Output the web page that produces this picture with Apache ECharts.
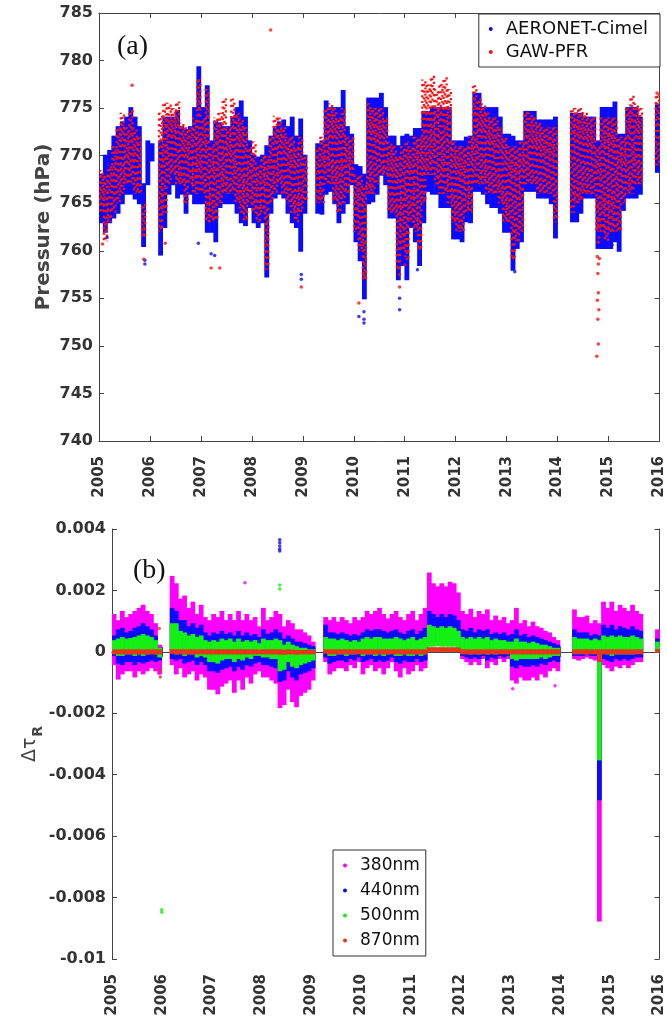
<!DOCTYPE html>
<html>
<head>
<meta charset="utf-8">
<title>Pressure and Rayleigh optical depth difference</title>
<script src="https://cdn.jsdelivr.net/npm/echarts@6/dist/echarts.min.js"></script>
<style>
html, body { margin: 0; padding: 0; background: #fff; }
#main { width: 667px; height: 1026px; }
</style>
</head>
<body>
<div id="main"></div>
<script>
// monthly ranges, Jan 2005 .. Dec 2015 (null = no data)
var yearTicks = [2005, 2006, 2007, 2008, 2009, 2010, 2011, 2012, 2013, 2014, 2015, 2016];

// (a) surface pressure, hPa
var cimelLow = [
    763, 762, 763, 763.5, 764, 765, 766, 766, 765.5, 765, 760.5, 767,
    769.5, null, 759.6, 762.5, 766, 767, 765.6, 766, 764, 766, 765, 765,
    765, 762, 762, 761, 764.6, 765, 765, 765, 764, 763, 762.7, 764.6,
    763, 762.5, 763, 757.3, 764, 765.6, 766, 765.6, 764, 763, 762.5, 760,
    764, null, null, 764, 763.9, 766, 766.3, 765, 763, 764, 765, 767,
    761, 759, 755, 765, 765.2, 766, 768, 767, 763.5, 763.5, 757, 758.5,
    757, 762.5, 761, 758.5, 763, 766.3, 766, 766, 764.6, 764.6, 764.6, 761.3,
    761.3, 761, 763.1, 763, 766.3, 766.3, 766, 765, 764.6, 764.6, 764, 762,
    762, 758, 760.3, 761, 766.3, 766.3, 766.3, 765.6, 765.6, 765.6, 765, 761.4,
    null, null, null, 763.1, 763.1, 764, 765.6, 765.6, 765.6, 760.3, 760.3, 760.3,
    760.3, 761, 760, 764.3, 765.6, 765.6, 765.6, 766, null, null, null, 768.3
];
var cimelHigh = [
    768, 770, 770.5, 772, 773, 773.5, 774, 775, 774, 773, 767, 771.5,
    771.2, null, 771.5, 774, 774, 774, 774.7, 773, 772.7, 773, 775, 779.3,
    775, 777.3, 771.5, 773.6, 773.4, 773, 773, 774, 775, 775.7, 774, 771.5,
    770, 769.8, 770, 771, 772, 773, 773.5, 773.7, 773, 774, 772, 773.8,
    770, null, null, 771.2, 771.5, 775.7, 775, 775, 775, 776.8, 773, 772.2,
    769, 768.8, 768, 776, 776, 776, 776.5, 775, 772, 772, 771, 772,
    772.2, 772, 772.8, 772.8, 774.6, 774.6, 775, 775, 775, 775, 775, 771.5,
    771.5, 771.5, 771.9, 772, 776.5, 776.5, 775, 775, 775, 775, 774, 772.2,
    772.2, 772, 771.5, 771.5, 774.6, 774.6, 774.6, 773.7, 773.7, 773.7, 773.7, 774,
    null, null, null, 774.4, 774.4, 774.4, 774, 774, 774, 771.5, 775, 775,
    775, 775.6, 772.2, 772.2, 775, 775, 775, 774, null, null, null, 775.3
];
var gawLow = [
    764, 761, 763, 764, 765, 766, 767, 767, 766, 766, 761.5, null,
    null, null, 762, 764, 767, 768, 767, 767, 765, 767, 766, 766,
    766, 763, 763, 763, 765, 766, 766, 766, 765, 764, 763, 765,
    764, 763, 764, 758, 765, 766, 767, 766, 765, 764, 763, 764,
    765, null, null, 765, 765, 767, 767, 765, 764, 765, 766, 767,
    762, 760, 757, 766, 766, 767, 768, 768, 764, 764, 758, 760,
    759, 763, 762, 760, 765, 768, 768, 767, 766, 766, 765, 763,
    762, 762, 764, 764, 767, 767, 767, 766, 766, 766, 765, 763,
    763, 759, 761, 762, 767, 767, 767, 766, 766, 766, 766, 763,
    null, null, null, 764, 765, 765, 766, 766, 766, 762, 762, 761,
    762, 762, 762, 765, 766, 766, 767, 767, null, null, null, 769
];
var gawHigh = [
    768.5, 768, 769, 771, 773, 774.5, 773, 774.8, 773, 772, 765, null,
    null, null, 774.5, 775.6, 775.5, 775, 775.7, 773.5, 773, 773, 774, 778,
    774, 777, 771, 774, 774.5, 776, 773, 776, 774.5, 774, 773, 771,
    771.5, 769, 770, 770, 772, 774.2, 774, 773, 772, 772, 771, 772,
    770, null, null, 771, 772, 775, 775.5, 775, 774, 775, 772, 772,
    768, 768, 767, 775.5, 775, 775, 775, 774, 771.5, 771, 770, 771,
    771.5, 771, 772, 772, 778, 777.5, 778.4, 777, 777.5, 778.3, 777, 771.5,
    771, 771, 771, 772, 777.4, 776, 775.5, 774.5, 774, 774, 773, 772,
    771, 771, 771, 771.5, 774.6, 774.5, 774, 773.5, 773, 773, 773, 773,
    null, null, null, 775, 775, 775, 774.5, 774, 774, 771, 774, 774,
    774, 774, 772, 772, 775, 776.3, 775.5, 775, null, null, null, 776.6
];
// isolated readings [year, hPa]
var cimelExtra = [[2005.16, 761.4], [2005.9, 759.0], [2005.9, 758.6], [2006.95, 760.8], [2007.2, 759.7],
    [2007.27, 759.5], [2008.97, 757.5], [2008.97, 757.0], [2010.1, 753.1], [2010.2, 753.6], [2010.2, 752.8],
    [2010.2, 752.4], [2010.9, 753.8], [2010.9, 755.0], [2011.25, 758.0], [2013.16, 757.8], [2015.07, 760.6]];
var gawExtra = [[2005.65, 777.4], [2005.07, 760.7], [2005.88, 759.1], [2006.3, 760.8], [2007.2, 758.2],
    [2007.37, 758.2], [2008.37, 783.2], [2008.97, 756.2], [2010.1, 754.5], [2010.2, 757.5], [2010.9, 757.5],
    [2010.9, 756.2], [2011.0, 758.5], [2014.78, 764.6], [2014.8, 763.2], [2014.79, 762.5], [2014.81, 761.4],
    [2014.8, 760.9], [2014.78, 759.4], [2014.82, 759.2], [2014.8, 758.6], [2014.79, 757.6], [2014.8, 755.6],
    [2014.78, 754.8], [2014.81, 753.8], [2014.79, 752.8], [2014.8, 750.2], [2014.77, 748.9], [2015.95, 776.6]];

// (b) delta tau Rayleigh, in units of 0.001
var t380Lo = [
    -0.4, -0.87, -0.7, -0.6, -0.6, -0.8, -0.6, -0.7, -0.6, -0.5, -0.6, -0.7,
    null, null, -0.4, -0.7, -0.5, -0.8, -0.7, -0.6, -0.9, -0.7, -0.8, -1.2,
    -1.2, -1.35, -1.1, -1.0, -0.9, -1.3, -0.9, -1.2, -0.8, -1.0, -0.7, -0.6,
    -0.8, -0.8, -0.9, -1.0, -1.8, -1.7, -1.2, -1.6, -1.77, -1.4, -1.3, -1.2,
    -0.9, null, null, -0.3, -0.7, -0.6, -0.5, -0.5, -0.6, -0.4, -0.5, -0.3,
    -0.7, -0.5, -0.4, -0.6, -0.5, -0.7, -0.5, -0.3, -0.6, -0.8, -0.5, -0.7,
    -0.6, -0.4, -0.6, -0.5, 0.5, 0.5, 0.55, 0.5, 0.5, 0.5, 0.5, 0.4,
    -0.2, -0.3, -0.4, -0.3, -0.4, -0.2, -0.5, -0.3, -0.4, -0.2, -0.3, -0.2,
    -0.9, -1.0, -0.8, -0.9, -0.9, -0.8, -0.9, -0.7, -0.8, -0.6, -0.5, -0.6,
    null, null, null, -0.2, -0.25, -0.2, -0.15, -0.2, -0.25, -8.75, -0.4, -0.5,
    -0.6, -0.45, -0.5, -0.4, -0.5, -0.4, -0.3, -0.3, null, null, null, 0.1
];
var t380Hi = [
    1.2, 1.0, 1.3, 1.1, 1.2, 1.3, 1.4, 1.5, 1.3, 1.2, 0.9, 0.2,
    null, null, 2.44, 2.2, 1.7, 1.8, 1.4, 1.6, 1.2, 1.5, 1.1, 1.0,
    1.2, 1.1, 1.3, 1.0, 1.2, 1.0, 1.3, 1.0, 1.2, 1.0, 1.1, 0.8,
    1.4, 1.0, 1.1, 1.3, 1.2, 0.8, 1.0, 0.9, 0.7, 0.7, 0.6, 0.5,
    0.3, null, null, 1.1, 1.0, 1.1, 0.95, 1.1, 1.0, 0.9, 1.1, 1.0,
    1.1, 1.3, 1.2, 1.3, 1.4, 1.2, 1.05, 1.2, 1.3, 1.1, 1.0, 1.2,
    1.3, 1.0, 1.2, 1.4, 2.55, 2.2, 2.1, 2.2, 2.1, 2.25, 2.2, 1.9,
    1.3, 1.2, 1.37, 1.1, 1.3, 1.2, 1.35, 1.0, 1.15, 1.0, 1.1, 0.9,
    1.0, 1.4, 0.9, 1.0, 0.8, 0.95, 0.8, 0.75, 0.65, 0.6, 0.45, 0.35,
    null, null, null, 1.35, 1.1, 1.1, 1.15, 0.9, 1.0, 0.9, 1.6, 1.4,
    1.6, 1.3, 1.5, 1.4, 1.3, 1.5, 1.3, 1.2, null, null, null, 0.7
];
var t440Lo = [
    -0.1, -0.35, -0.4, -0.3, -0.3, -0.4, -0.3, -0.35, -0.3, -0.25, -0.3, -0.25,
    null, null, -0.2, -0.25, -0.2, -0.35, -0.3, -0.25, -0.4, -0.3, -0.4, -0.6,
    -0.6, -0.65, -0.55, -0.5, -0.45, -0.6, -0.45, -0.55, -0.4, -0.45, -0.35, -0.3,
    -0.4, -0.4, -0.45, -0.5, -0.95, -0.9, -0.6, -0.8, -0.9, -0.7, -0.65, -0.6,
    -0.5, null, null, -0.15, -0.35, -0.3, -0.25, -0.25, -0.3, -0.2, -0.25, -0.15,
    -0.3, -0.25, -0.2, -0.3, -0.25, -0.3, -0.25, -0.15, -0.3, -0.35, -0.25, -0.3,
    -0.3, -0.2, -0.3, -0.25, 0.35, 0.35, 0.4, 0.35, 0.35, 0.35, 0.35, 0.3,
    -0.1, -0.15, -0.2, -0.15, -0.2, -0.1, -0.25, -0.15, -0.2, -0.1, -0.15, -0.1,
    -0.45, -0.5, -0.4, -0.45, -0.45, -0.4, -0.45, -0.35, -0.4, -0.3, -0.25, -0.3,
    null, null, null, -0.1, -0.1, -0.1, -0.05, -0.1, -0.1, -4.8, -0.2, -0.25,
    -0.3, -0.2, -0.25, -0.2, -0.25, -0.2, -0.15, -0.15, null, null, null, 0.2
];
var t440Hi = [
    0.5, 0.7, 0.75, 0.6, 0.65, 0.75, 0.8, 0.9, 0.8, 0.7, 0.5, 0.1,
    null, null, 1.4, 1.3, 1.0, 1.0, 0.8, 0.9, 0.75, 0.85, 0.6, 0.5,
    0.6, 0.55, 0.65, 0.55, 0.6, 0.5, 0.65, 0.5, 0.6, 0.5, 0.55, 0.45,
    0.7, 0.55, 0.6, 0.7, 0.6, 0.4, 0.5, 0.4, 0.3, 0.3, 0.25, 0.2,
    0.15, null, null, 0.85, 0.6, 0.6, 0.55, 0.6, 0.55, 0.5, 0.55, 0.5,
    0.6, 0.7, 0.65, 0.7, 0.7, 0.65, 0.6, 0.65, 0.7, 0.6, 0.55, 0.65,
    0.7, 0.55, 0.65, 0.75, 1.3, 1.2, 1.1, 1.2, 1.1, 1.2, 1.15, 1.0,
    0.7, 0.65, 0.75, 0.6, 0.7, 0.65, 0.7, 0.55, 0.6, 0.55, 0.6, 0.5,
    0.55, 0.7, 0.5, 0.55, 0.45, 0.5, 0.45, 0.4, 0.35, 0.3, 0.25, 0.2,
    null, null, null, 0.7, 0.6, 0.6, 0.6, 0.5, 0.55, 0.5, 0.85, 0.75,
    0.85, 0.7, 0.8, 0.75, 0.7, 0.8, 0.7, 0.65, null, null, null, 0.4
];
var t500Lo = [
    0, -0.1, -0.1, -0.05, -0.05, -0.1, -0.05, -0.1, -0.05, 0, -0.05, -0.15,
    null, null, 0, -0.05, 0, -0.1, -0.05, -0.05, -0.15, -0.1, -0.15, -0.3,
    -0.3, -0.35, -0.25, -0.2, -0.2, -0.3, -0.2, -0.25, -0.15, -0.2, -0.1, -0.1,
    -0.15, -0.15, -0.2, -0.2, -0.6, -0.55, -0.3, -0.45, -0.5, -0.4, -0.35, -0.3,
    -0.25, null, null, 0.05, -0.1, -0.1, -0.05, -0.05, -0.1, -0.05, -0.05, 0,
    -0.1, -0.05, -0.05, -0.1, -0.05, -0.1, -0.05, 0, -0.1, -0.1, -0.05, -0.1,
    -0.1, -0.05, -0.1, -0.05, 0.2, 0.2, 0.22, 0.2, 0.2, 0.2, 0.2, 0.15,
    0, 0, -0.05, 0, -0.05, 0, -0.05, 0, -0.05, 0, 0, 0,
    -0.2, -0.25, -0.2, -0.2, -0.2, -0.2, -0.2, -0.15, -0.2, -0.15, -0.1, -0.1,
    null, null, null, 0, 0, 0, 0, 0, 0, -3.5, 0, -0.05,
    -0.1, -0.05, -0.05, -0.05, -0.05, -0.05, 0, 0, null, null, null, 0.1
];
var t500Hi = [
    0.35, 0.4, 0.45, 0.4, 0.42, 0.45, 0.5, 0.55, 0.5, 0.45, 0.35, 0.1,
    null, null, 0.9, 0.9, 0.65, 0.6, 0.5, 0.55, 0.45, 0.5, 0.35, 0.3,
    0.35, 0.3, 0.4, 0.35, 0.4, 0.3, 0.4, 0.3, 0.35, 0.3, 0.35, 0.25,
    0.4, 0.35, 0.35, 0.4, 0.35, 0.2, 0.3, 0.2, 0.15, 0.1, 0.1, 0.05,
    0.05, null, null, 0.45, 0.4, 0.4, 0.35, 0.4, 0.35, 0.3, 0.35, 0.3,
    0.4, 0.45, 0.4, 0.45, 0.45, 0.4, 0.4, 0.4, 0.45, 0.4, 0.35, 0.4,
    0.45, 0.35, 0.4, 0.45, 0.85, 0.8, 0.75, 0.8, 0.75, 0.8, 0.75, 0.65,
    0.45, 0.4, 0.45, 0.4, 0.45, 0.4, 0.45, 0.35, 0.4, 0.35, 0.35, 0.3,
    0.3, 0.4, 0.3, 0.3, 0.25, 0.3, 0.25, 0.2, 0.2, 0.15, 0.1, 0.1,
    null, null, null, 0.45, 0.4, 0.4, 0.4, 0.35, 0.4, 0.35, 0.5, 0.45,
    0.5, 0.45, 0.5, 0.45, 0.45, 0.5, 0.45, 0.4, null, null, null, 0.3
];
var t870Lo = [
    -0.05, -0.05, -0.05, -0.05, -0.05, -0.05, -0.05, -0.05, -0.05, -0.05, -0.05, -0.05,
    null, null, -0.03, -0.05, -0.05, -0.05, -0.05, -0.05, -0.05, -0.05, -0.05, -0.05,
    -0.05, -0.05, -0.05, -0.05, -0.05, -0.05, -0.05, -0.05, -0.05, -0.05, -0.05, -0.05,
    -0.05, -0.05, -0.05, -0.05, -0.06, -0.06, -0.05, -0.05, -0.06, -0.05, -0.05, -0.05,
    -0.05, null, null, -0.03, -0.05, -0.05, -0.05, -0.05, -0.05, -0.05, -0.05, -0.05,
    -0.05, -0.05, -0.05, -0.05, -0.05, -0.05, -0.05, -0.05, -0.05, -0.05, -0.05, -0.05,
    -0.05, -0.05, -0.05, -0.05, 0.03, 0.03, 0.03, 0.03, 0.03, 0.03, 0.03, 0.02,
    -0.05, -0.05, -0.05, -0.05, -0.05, -0.05, -0.05, -0.05, -0.05, -0.05, -0.05, -0.05,
    -0.05, -0.05, -0.05, -0.05, -0.05, -0.05, -0.05, -0.05, -0.05, -0.05, -0.05, -0.05,
    null, null, null, -0.05, -0.05, -0.05, -0.05, -0.05, -0.05, -0.3, -0.05, -0.05,
    -0.05, -0.05, -0.05, -0.05, -0.05, -0.05, -0.05, -0.05, null, null, null, 0
];
var t870Hi = [
    0.05, 0.05, 0.05, 0.05, 0.05, 0.05, 0.05, 0.05, 0.05, 0.05, 0.05, 0.05,
    null, null, 0.06, 0.05, 0.05, 0.05, 0.05, 0.05, 0.05, 0.05, 0.05, 0.05,
    0.05, 0.05, 0.05, 0.05, 0.05, 0.05, 0.05, 0.05, 0.05, 0.05, 0.05, 0.04,
    0.05, 0.05, 0.05, 0.05, 0.05, 0.04, 0.05, 0.04, 0.03, 0.03, 0.03, 0.03,
    0.03, null, null, 0.05, 0.05, 0.05, 0.05, 0.05, 0.05, 0.05, 0.05, 0.05,
    0.05, 0.05, 0.05, 0.05, 0.05, 0.05, 0.05, 0.05, 0.05, 0.05, 0.05, 0.05,
    0.05, 0.05, 0.05, 0.05, 0.12, 0.12, 0.12, 0.12, 0.12, 0.12, 0.12, 0.11,
    0.05, 0.05, 0.05, 0.05, 0.05, 0.05, 0.05, 0.05, 0.05, 0.05, 0.05, 0.05,
    0.05, 0.05, 0.05, 0.05, 0.05, 0.05, 0.05, 0.05, 0.05, 0.05, 0.05, 0.05,
    null, null, null, 0.05, 0.05, 0.05, 0.05, 0.05, 0.05, 0.05, 0.05, 0.05,
    0.05, 0.05, 0.05, 0.05, 0.05, 0.05, 0.05, 0.05, null, null, null, 0.06
];
var t380Extra = [[2007.67, 2.25], [2013.05, -1.2], [2013.9, -1.1], [2005.92, -0.45], [2005.95, -0.7]];
var t440Extra = [[2008.37, 3.65], [2008.37, 3.55], [2008.37, 3.45], [2008.37, 3.35], [2008.37, 3.28]];
var t500Extra = [[2008.37, 2.18], [2008.37, 2.05], [2006.0, -8.4], [2006.0, -8.48]];
var t870Extra = [[2005.95, 0.76], [2005.97, -0.82], [2005.97, -0.6]];

var BLUE = '#0a0aff', RED = '#ff1010', MAGENTA = '#ff00ff', GREEN = '#14f014', ORANGE = '#e8341c';
var FONT = 'DejaVu Sans';

function monthly(lo, hi) {
    var out = [];
    for (var i = 0; i < lo.length; i++) {
        if (lo[i] == null || hi[i] == null) continue;
        out.push([yearTicks[0] + (i + 0.5) / 12, lo[i], hi[i]]);
    }
    return out;
}

function bandItem(color) {
    return function (params, api) {
        var a = api.coord([api.value(0) - 1 / 24, api.value(2)]);
        var b = api.coord([api.value(0) + 1 / 24, api.value(1)]);
        return {
            type: 'rect',
            shape: {x: a[0] - 0.3, y: a[1] - 1, width: b[0] - a[0] + 0.6, height: b[1] - a[1] + 2},
            style: {fill: color}
        };
    };
}

// red readings are sparser: draw them as broken dotted columns,
// the dash phase shifts from month to month so the dots do not line up
function dotItem(params, api) {
    var a = api.coord([api.value(0), api.value(2)]);
    var b = api.coord([api.value(0), api.value(1)]);
    var k = params.dataIndex;
    var cols = [[-1.5, [2.2, 3.4]], [0.1, [2.2, 4.6]], [1.6, [2.2, 3.9]]];
    return {
        type: 'group',
        children: cols.map(function (c, j) {
            return {
                type: 'line',
                shape: {x1: a[0] + c[0], y1: a[1], x2: b[0] + c[0], y2: b[1]},
                style: {stroke: RED, lineWidth: 2.3, lineDash: c[1], lineDashOffset: ((k * 7 + j * 3) % 11) * 0.55}
            };
        })
    };
}

function bandSeries(name, lo, hi, color, grid, render) {
    return {
        name: name, type: 'custom', xAxisIndex: grid * 2, yAxisIndex: grid * 2,
        coordinateSystem: 'cartesian2d', renderItem: render || bandItem(color),
        itemStyle: {color: color}, encode: {x: 0, y: [1, 2]},
        data: monthly(lo, hi), clip: true, silent: true
    };
}

function extraSeries(name, pts, color, grid) {
    return {
        name: name, type: 'scatter', xAxisIndex: grid * 2, yAxisIndex: grid * 2,
        symbolSize: 3.5, itemStyle: {color: color}, data: pts, silent: true, z: 3
    };
}

var tickLabel = {fontFamily: FONT, fontWeight: 'bold', fontSize: 16, color: '#333'};

function xAxes(grid) {
    return [{
        gridIndex: grid, type: 'value', position: 'bottom', min: 2005, max: 2016, interval: 1,
        axisLine: {lineStyle: {color: '#444'}},
        axisTick: {inside: true, length: 5, lineStyle: {color: '#444'}},
        axisLabel: {rotate: 90, margin: 15, fontFamily: FONT, fontWeight: 'bold', fontSize: 15, color: '#333',
            showMinLabel: true, showMaxLabel: true, formatter: function (v) { return String(v); }},
        splitLine: {show: false}
    }, {
        gridIndex: grid, type: 'value', position: 'top', min: 2005, max: 2016, interval: 1,
        axisLine: {lineStyle: {color: '#444'}},
        axisTick: {inside: true, length: 5, lineStyle: {color: '#444'}},
        axisLabel: {show: false}, splitLine: {show: false}
    }];
}

function yAxes(grid, min, max, step, fmt) {
    return [{
        gridIndex: grid, type: 'value', position: 'left', min: min, max: max, interval: step,
        axisLine: {show: true, lineStyle: {color: '#444'}},
        axisTick: {inside: true, length: 5, lineStyle: {color: '#444'}},
        axisLabel: Object.assign({margin: 6, showMinLabel: true, showMaxLabel: true, formatter: fmt}, tickLabel),
        splitLine: {show: false}
    }, {
        gridIndex: grid, type: 'value', position: 'right', min: min, max: max, interval: step,
        axisLine: {show: true, lineStyle: {color: '#444'}},
        axisTick: {inside: true, length: 5, lineStyle: {color: '#444'}},
        axisLabel: {show: false}, splitLine: {show: false}
    }];
}

var legendBox = {
    orient: 'vertical', icon: 'circle', itemWidth: 4, itemHeight: 4, selectedMode: false,
    borderColor: '#333', borderWidth: 1, borderRadius: 0, backgroundColor: '#fff'
};

var myChart = echarts.init(document.getElementById('main'), null, {renderer: 'canvas'});
var option = {
    backgroundColor: '#fff',
    animation: false,
    grid: [
        {left: 99, right: 7, top: 13, height: 428},
        {left: 112, right: 7, top: 529, height: 430}
    ],
    xAxis: xAxes(0).concat(xAxes(1)),
    yAxis: yAxes(0, 740, 785, 5, function (v) { return String(v); })
        .concat(yAxes(1, -10, 4, 2, function (v) { return String(v / 1000); })),
    legend: [
        Object.assign({
            data: ['AERONET-Cimel', 'GAW-PFR'], right: 7, top: 14, itemGap: 5, padding: [6, 12, 6, 10],
            textStyle: {fontFamily: FONT, fontSize: 18, color: '#111', padding: [0, 0, 0, 8]}
        }, legendBox),
        Object.assign({
            data: ['380nm', '440nm', '500nm', '870nm'], left: 333, top: 850, itemGap: 8, padding: [7, 6, 7, 10],
            textStyle: {fontFamily: FONT, fontSize: 17, color: '#111', padding: [0, 0, 0, 8]}
        }, legendBox)
    ],
    graphic: [
        {type: 'text', left: 117, top: 33, style: {text: '(a)', font: '28px "Liberation Serif"', fill: '#111'}},
        {type: 'text', left: 133, top: 557, style: {text: '(b)', font: '28px "Liberation Serif"', fill: '#111'}},
        {type: 'text', x: 44, y: 227, rotation: Math.PI / 2,
            style: {text: 'Pressure (hPa)', font: 'bold 20px "DejaVu Sans"', fill: '#444',
                align: 'center', verticalAlign: 'middle'}},
        {type: 'text', x: 30, y: 744, rotation: Math.PI / 2,
            style: {text: '{d|Δτ}{r|R}', align: 'center', verticalAlign: 'middle',
                rich: {
                    d: {font: '19px "DejaVu Sans"', fill: '#444', lineHeight: 30},
                    r: {font: 'bold 14px "DejaVu Sans"', fill: '#444', lineHeight: 30, verticalAlign: 'bottom', padding: [10, 0, 0, 1]}
                }}}
    ],
    series: [
        bandSeries('AERONET-Cimel', cimelLow, cimelHigh, BLUE, 0),
        extraSeries('AERONET-Cimel', cimelExtra, BLUE, 0),
        bandSeries('GAW-PFR', gawLow, gawHigh, RED, 0, dotItem),
        extraSeries('GAW-PFR', gawExtra, RED, 0),

        bandSeries('380nm', t380Lo, t380Hi, MAGENTA, 1),
        extraSeries('380nm', t380Extra, MAGENTA, 1),
        bandSeries('440nm', t440Lo, t440Hi, BLUE, 1),
        extraSeries('440nm', t440Extra, BLUE, 1),
        bandSeries('500nm', t500Lo, t500Hi, GREEN, 1),
        extraSeries('500nm', t500Extra, GREEN, 1),
        bandSeries('870nm', t870Lo, t870Hi, ORANGE, 1),
        extraSeries('870nm', t870Extra, ORANGE, 1)
    ]
};
myChart.setOption(option);
</script>
</body>
</html>
